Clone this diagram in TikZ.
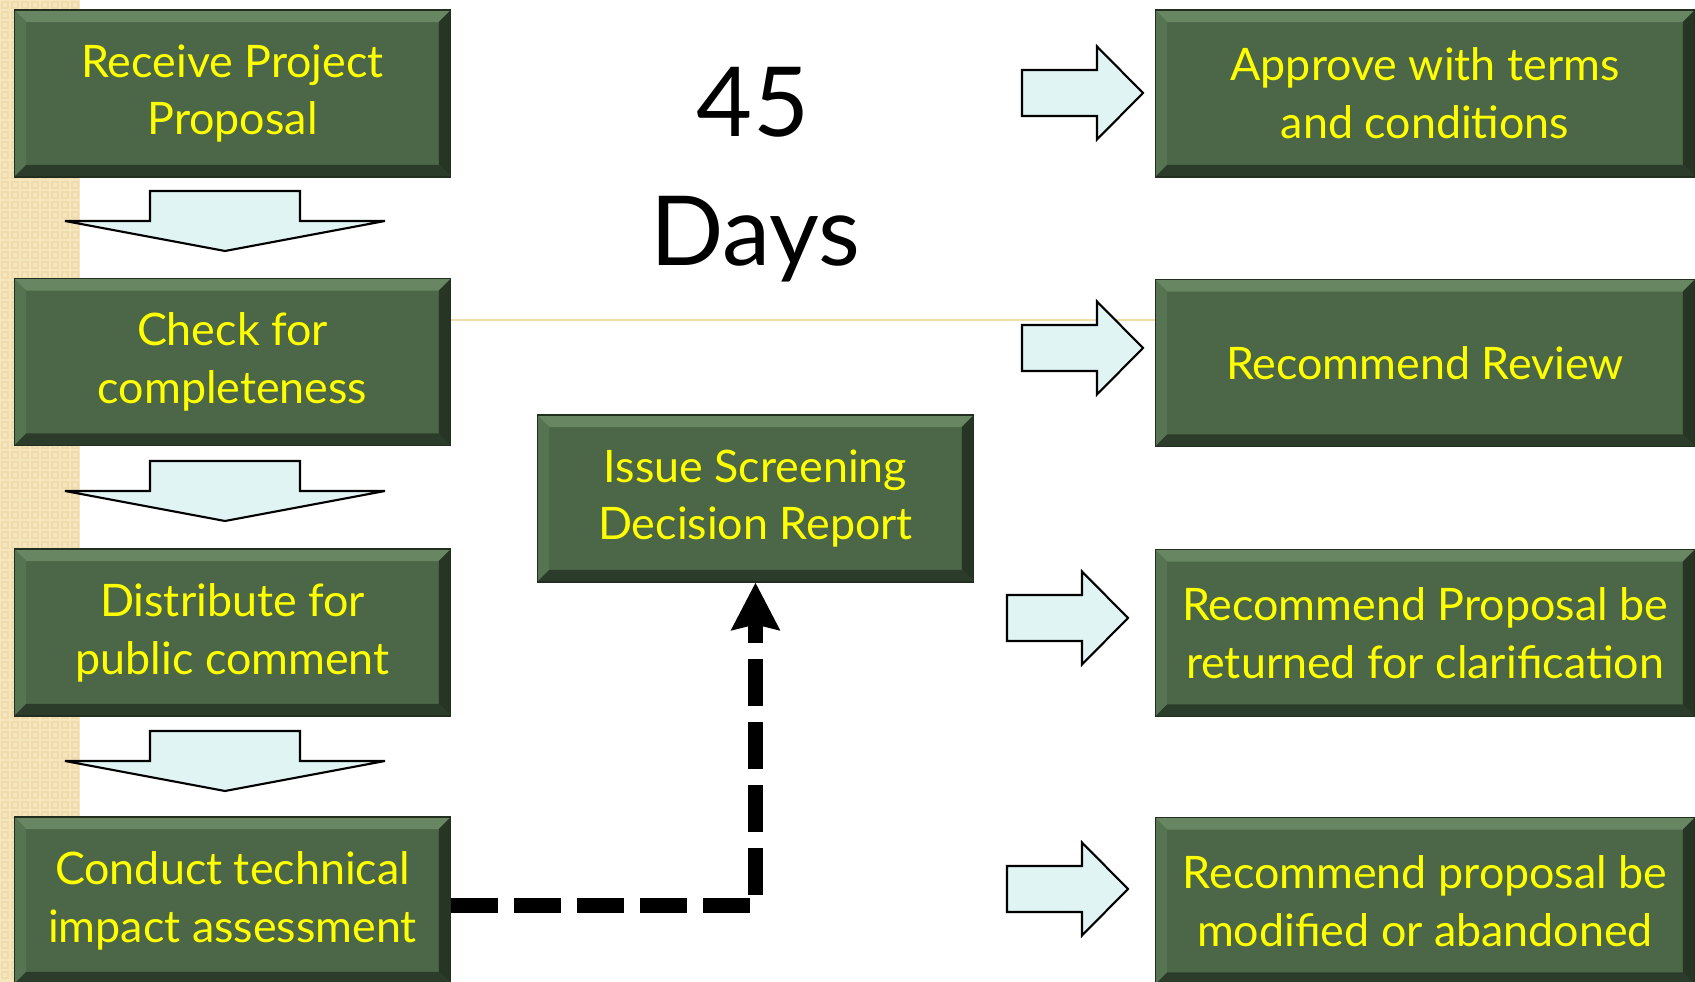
\documentclass[tikz,border=0pt]{standalone}
\usepackage{fontspec}
\setmainfont{Lato}
\usetikzlibrary{arrows.meta}

\definecolor{boxgreen}{RGB}{75,103,72}
\definecolor{boxedge}{RGB}{34,47,32}
\definecolor{bevtop}{RGB}{104,134,98}
\definecolor{bevleft}{RGB}{86,116,82}
\definecolor{bevright}{RGB}{38,53,36}
\definecolor{bevbottom}{RGB}{44,60,42}
\definecolor{boxtext}{RGB}{255,255,0}
\definecolor{arrowfill}{RGB}{224,244,244}
\definecolor{stripbeige}{RGB}{246,230,190}
\definecolor{stripdot}{RGB}{239,219,172}
\definecolor{ruleline}{RGB}{240,222,170}

\newcommand\bevw{0.24cm}

\tikzset{
	stepbox/.style={
		rectangle, draw=boxedge, line width=0.6pt, fill=boxgreen,
		minimum width=8.74cm, minimum height=3.34cm, inner sep=0pt,
		text=boxtext, align=center, font=\fontsize{25.5}{33}\selectfont,
		path picture={
			\coordinate (nw) at (path picture bounding box.north west);
			\coordinate (ne) at (path picture bounding box.north east);
			\coordinate (sw) at (path picture bounding box.south west);
			\coordinate (se) at (path picture bounding box.south east);
			\fill[bevtop] (nw) -- (ne) -- ([shift={(-\bevw,-\bevw)}]ne) -- ([shift={(\bevw,-\bevw)}]nw) -- cycle;
			\fill[bevleft] (nw) -- ([shift={(\bevw,-\bevw)}]nw) -- ([shift={(\bevw,\bevw)}]sw) -- (sw) -- cycle;
			\fill[bevright] (ne) -- (se) -- ([shift={(-\bevw,\bevw)}]se) -- ([shift={(-\bevw,-\bevw)}]ne) -- cycle;
			\fill[bevbottom] (sw) -- (se) -- ([shift={(-\bevw,\bevw)}]se) -- ([shift={(\bevw,\bevw)}]sw) -- cycle;
		}
	},
	widebox/.style={stepbox, minimum width=10.8cm},
	blockarrow/.style={draw=black, line width=1.2pt, fill=arrowfill, line join=miter},
	bigtext/.style={font=\fontsize{55}{60}\selectfont, text=black, anchor=base},
	linkline/.style={line width=8.5pt, dash pattern=on 0.94cm off 0.32cm,
		-{Stealth[length=0.94cm, width=0.94cm, inset=0.1cm]}},
}

\begin{document}
\begin{tikzpicture}[x=0.02cm, y=-0.02cm]
	\useasboundingbox (0,0) rectangle (1695,982);
	% left strip
	\fill[stripbeige] (0,0) rectangle (80,982);
	\foreach \i in {0,...,7}{
		\foreach \j in {0,...,97}{
			\draw[stripdot, line width=0.6pt] (\i*10+2,\j*10+2) rectangle ++(6,6);
		}
	}
	\draw[ruleline, line width=0.8pt] (451,320) -- (1155,320);

	% steps
	\node (receive) [stepbox] at (232.5,93.5) {Receive Project\\Proposal};
	\node (check) [stepbox] at (232.5,362) {Check for\\completeness};
	\node (distribute) [stepbox] at (232.5,632.5) {Distribute for\\public comment};
	\node (conduct) [stepbox] at (232.5,900.5) {Conduct technical\\impact assessment};
	\node (report) [stepbox] at (755.5,498.5) {Issue Screening\\Decision Report};

	% outcomes
	\node (approve) [widebox] at (1425,93.5) {Approve with terms\\and conditions};
	\node (review) [widebox] at (1425,363) {Recommend Review};
	\node (clarify) [widebox] at (1425,633) {Recommend Proposal be\\returned for clarification};
	\node (modify) [widebox] at (1425,901) {Recommend proposal be\\modified or abandoned};

	\node (forty) [bigtext] at (753,137) {45};
	\node (days) [bigtext] at (755,266) {Days};

	% block arrows
	\foreach \y in {191,461,731}{
		\draw[blockarrow] (150,\y) -- (300,\y) -- (300,\y+30) -- (385,\y+30) -- (225,\y+60) -- (65,\y+30) -- (150,\y+30) -- cycle;
	}
	\foreach \x/\y in {1022/93, 1022/348, 1007/618, 1007/889}{
		\draw[blockarrow] (\x,\y-23) -- (\x+75,\y-23) -- (\x+75,\y-46.5) -- (\x+121,\y) -- (\x+75,\y+46.5) -- (\x+75,\y+23) -- (\x,\y+23) -- cycle;
	}

	\draw[linkline] ([yshift=-0.1cm]conduct.east) -| (report.south);
\end{tikzpicture}
\end{document}
